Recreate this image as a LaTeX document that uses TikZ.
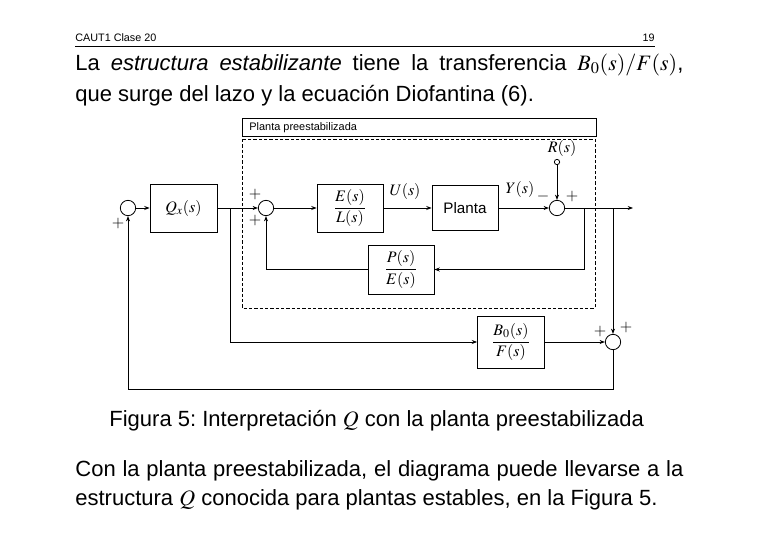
\documentclass[tikz,border=0pt]{standalone}
\usepackage{mathptmx}
\usepackage{fontspec}
\setmainfont{Liberation Sans}
\usetikzlibrary{arrows.meta,positioning}
\frenchspacing
\tikzset{
  >={Stealth[length=4pt,width=3pt]},
  sig/.style={->,line width=0.6pt},
  blk/.style={draw,line width=0.6pt,minimum width=#1,minimum height=36pt,inner sep=1pt,
    font=\fontsize{12}{14}\selectfont},
  blk/.default=49.5pt,
  sum/.style={circle,draw,line width=0.6pt,minimum size=11.5pt,inner sep=0pt},
  sgn/.style={font=\fontsize{12}{14}\selectfont,inner sep=0pt},
  body/.style={anchor=base west,inner sep=0pt,font=\fontsize{16.5}{23}\selectfont},
  small/.style={inner sep=0pt,font=\fontsize{8.1}{10}\selectfont},
}

\begin{document}
\begin{tikzpicture}[x=0.75pt,y=-0.75pt,line width=0.6pt]
  \useasboundingbox (0,0) rectangle (758,536);
  % page head
  \node[small,anchor=base west] (head) at (75,41) {CAUT1 Clase 20};
  \node[small,anchor=base east] (page) at (655,41) {19};
  \draw[line width=0.75pt] (75,46) -- (655,46);
  \node[body] (t1) at (75,70) {\makebox[456pt][s]{La \textit{estructura estabilizante} tiene la transferencia $B_0(s)/F(s)$,}};
  \node[body] (t2) at (75,101) {que surge del lazo y la ecuación Diofantina (6).};
  % frame of the prestabilized plant
  \draw (242,118) rectangle (596,136);
  \node[small,anchor=west,font=\fontsize{8.2}{10}\selectfont] (ttl) at (249,127.5) {Planta preestabilizada};
  \draw[dashed,dash pattern=on 2.5pt off 1.5pt] (242,139) rectangle (595,308);
  % blocks
  \node[sum] (s1) at (128,208) {};
  \node[blk=50.25pt] (qx) at (183.5,208) {$Q_x(s)$};
  \node[sum] (s2) at (266,208) {};
  \node[blk] (el) at (350,208) {$\displaystyle\frac{E(s)}{L(s)}$};
  \node[blk,minimum height=33.75pt,font=\fontsize{11.4}{13}\selectfont] (planta) at (465,208) {Planta};
  \node[sum] (s3) at (557,208) {};
  \node[circle,draw,inner sep=0pt,minimum size=4pt] (rin) at (557,162) {};
  \node[blk,minimum height=36.75pt] (pe) at (401,269.5) {$\displaystyle\frac{P(s)}{E(s)}$};
  \node[blk=50.25pt,minimum height=39pt] (bf) at (511,342) {$\displaystyle\frac{B_0(s)}{F(s)}$};
  \node[sum] (s4) at (613,342) {};
  \coordinate (br) at (230,208);
  \coordinate (tp1) at (584,208);
  \coordinate (tp2) at (613,208);
  \coordinate (out) at (633,208);
  \coordinate (fb) at (128,389);
  % signals
  \draw[sig] (s1.east) -- (qx.west);
  \draw[sig] (qx.east) -- (s2.west);
  \draw[sig] (s2.east) -- (el.west);
  \draw[sig] (el.east) -- (planta.west);
  \draw[sig] (planta.east) -- (s3.west);
  \draw[sig] (rin.south) -- (s3.north);
  \draw[sig] (s3.east) -- (out);
  \draw[sig] (tp1) |- (pe.east);
  \draw[sig] (pe.west) -| (s2.south);
  \draw[sig] (br) |- (bf.west);
  \draw[sig] (tp2) -- (s4.north);
  \draw[sig] (bf.east) -- (s4.west);
  \draw[sig] (s4.south) |- (fb) -- (s1.south);
  % signs and labels
  \node[sgn] (p1) at (118,224) {$+$};
  \node[sgn] (p2a) at (255,195) {$+$};
  \node[sgn] (p2b) at (255,220) {$+$};
  \node[sgn] (m3) at (543,196) {$-$};
  \node[sgn] (p3) at (572,196) {$+$};
  \node[sgn] (p4a) at (600,331) {$+$};
  \node[sgn] (p4b) at (626,327) {$+$};
  \node[sgn] (u) at (405,191) {$U(s)$};
  \node[sgn] (y) at (520,189) {$Y(s)$};
  \node[sgn] (r) at (562,148) {$R(s)$};
  % caption and text below
  \node[body] (cap) at (109,426) {Figura 5: Interpretación $Q$ con la planta preestabilizada};
  \node[body] (b1) at (75,476) {\makebox[456pt][s]{Con la planta preestabilizada, el diagrama puede llevarse a la}};
  \node[body] (b2) at (75,505) {estructura $Q$ conocida para plantas estables, en la Figura 5.};
\end{tikzpicture}
\end{document}
